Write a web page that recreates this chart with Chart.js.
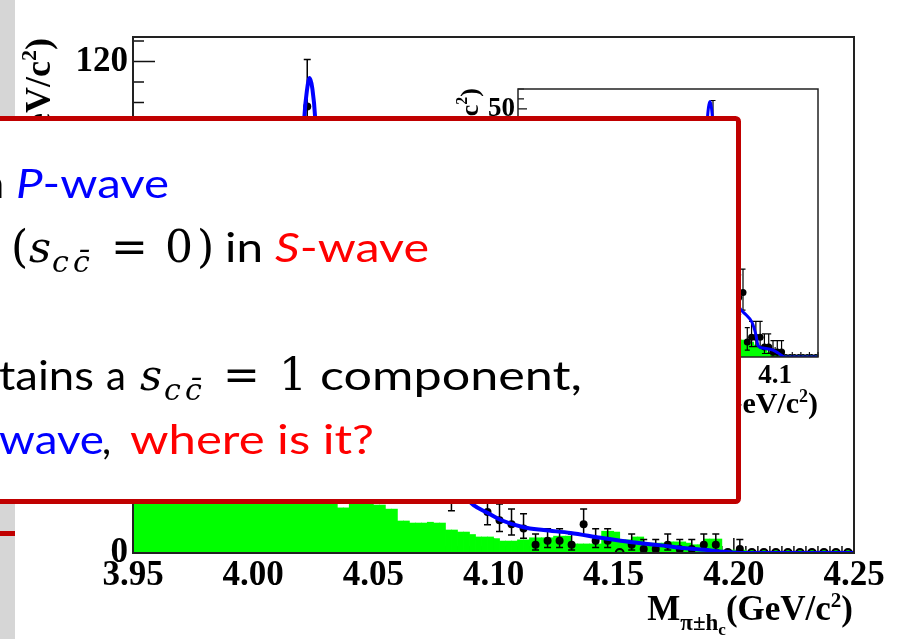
<!DOCTYPE html>
<html>
<head>
<meta charset="utf-8">
<script src="https://cdn.jsdelivr.net/npm/chart.js@4.4.1/dist/chart.umd.min.js"></script>
<style>
  html, body { margin: 0; padding: 0; background: #fff; }
  #stage { position: relative; width: 900px; height: 639px; overflow: hidden; background: #fff; }
  #strip { position: absolute; left: 0; top: 0; width: 15px; height: 639px; background: #d6d6d6; }
  #stripRule { position: absolute; left: 0; top: 531px; width: 15px; height: 5px; background: #c00000; }
  canvas { position: absolute; left: 0; top: 0; }
  #note { position: absolute; left: 0; top: 0; }
</style>
</head>
<body>
<div id="stage">
  <div id="strip"></div>
  <div id="stripRule"></div>
  <canvas id="main" width="900" height="639"></canvas>
  <canvas id="inset" width="900" height="639"></canvas>
  <svg id="note" width="900" height="639" xmlns="http://www.w3.org/2000/svg">
    <rect x="-20" y="118.5" width="758.5" height="383" rx="3" fill="#ffffff" stroke="#c00000" stroke-width="5"/>
    <g font-family="Lato, 'Open Sans', sans-serif" font-size="40">
      <!-- line 1 -->
      <text x="4" y="198" text-anchor="end" fill="#000">in</text>
      <text x="16" y="198" fill="#0000ff" textLength="153" lengthAdjust="spacingAndGlyphs"><tspan font-style="italic">P</tspan>-wave</text>
      <!-- line 2 -->
      <text x="11" y="262" font-family="'DejaVu Serif', serif" font-size="44" fill="#000">(</text>
      <text x="29" y="262" font-family="'DejaVu Serif', serif" font-size="43" font-style="italic" fill="#000">s</text>
      <text x="52" y="272" font-family="'DejaVu Serif', serif" font-size="30" font-style="italic" fill="#000">c</text>
      <text x="73" y="272" font-family="'DejaVu Serif', serif" font-size="30" font-style="italic" fill="#000">c&#x0304;</text>
      <text x="111" y="262" font-family="'DejaVu Serif', serif" font-size="44" fill="#000">=</text>
      <text x="165" y="262" font-family="'DejaVu Serif', serif" font-size="44" fill="#000">0</text>
      <text x="197" y="262" font-family="'DejaVu Serif', serif" font-size="44" fill="#000">)</text>
      <text x="225" y="262" fill="#000" textLength="38" lengthAdjust="spacingAndGlyphs">in</text>
      <text x="275" y="262" fill="#ff0000" textLength="154" lengthAdjust="spacingAndGlyphs"><tspan font-style="italic">S</tspan>-wave</text>
      <!-- line 3 -->
      <text x="-1" y="390" text-anchor="end" fill="#000">con</text>
      <text x="-1" y="390" fill="#000" textLength="95" lengthAdjust="spacingAndGlyphs">tains</text>
      <text x="106" y="390" fill="#000">a</text>
      <text x="140" y="390" font-family="'DejaVu Serif', serif" font-size="43" font-style="italic" fill="#000">s</text>
      <text x="164" y="400" font-family="'DejaVu Serif', serif" font-size="30" font-style="italic" fill="#000">c</text>
      <text x="185" y="400" font-family="'DejaVu Serif', serif" font-size="30" font-style="italic" fill="#000">c&#x0304;</text>
      <text x="223" y="390" font-family="'DejaVu Serif', serif" font-size="44" fill="#000">=</text>
      <text x="279" y="390" font-family="'DejaVu Serif', serif" font-size="44" fill="#000">1</text>
      <text x="320" y="390" fill="#000" textLength="262" lengthAdjust="spacingAndGlyphs">component,</text>
      <!-- line 4 -->
      <text x="-1" y="454" text-anchor="end" fill="#0000ff"><tspan font-style="italic">P</tspan>-</text>
      <text x="-1" y="454" fill="#0000ff" textLength="105" lengthAdjust="spacingAndGlyphs">wave</text>
      <text x="102" y="454" fill="#000">,</text>
      <text x="130" y="454" fill="#ff0000" textLength="244" lengthAdjust="spacingAndGlyphs">where is it?</text>
    </g>
  </svg>
</div>

<script>
// ---------- main spectrum: 5 MeV/c² bins, 3.95 – 4.25 GeV/c² ----------
const mainRange = [3.95, 4.25];
const mainBinWidth = 0.005;
const mainCounts = [
  24, 28, 31, 27, 35, 33, 38, 36, 41, 39,
  44, 42, 52, 71, 109, 88, 47, 36, 32, 29,
  31, 26, 24, 22, 19, 20, 14, 18, 17, 10,
  8, 7, 6, 2, 3, 3, 2, 7, 3, 3,
  0, 2, 1, 1, 2, 1, 1, 2, 2, 0,
  1, 0, 0, 0, 0, 0, 0, 0, 0, 0
];
const mainErrHigh = [
  5.97, 6.35, 6.62, 6.26, 6.96, 6.79, 7.21, 7.05, 7.45, 7.29,
  7.68, 7.52, 8.25, 9.47, 11.5, 10.4, 7.90, 7.05, 6.71, 6.44,
  6.62, 6.17, 5.97, 5.76, 5.44, 5.55, 4.83, 5.32, 5.20, 4.27,
  3.94, 3.77, 3.58, 2.64, 2.92, 2.92, 2.64, 3.77, 2.92, 2.92,
  0, 2.64, 2.30, 2.30, 2.64, 2.30, 2.30, 2.64, 2.64, 0,
  2.30, 0, 0, 0, 0, 0, 0, 0, 0, 0
];
const mainErrLow = [
  4.87, 5.28, 5.56, 5.18, 5.91, 5.74, 6.16, 6.00, 6.40, 6.24,
  6.63, 6.48, 7.20, 8.42, 10.4, 9.40, 6.85, 6.00, 5.65, 5.37,
  5.56, 5.08, 4.87, 4.66, 4.32, 4.44, 3.70, 4.20, 4.08, 3.11,
  2.77, 2.58, 2.38, 1.29, 1.63, 1.63, 1.29, 2.58, 1.63, 1.63,
  0, 1.29, 0.83, 0.83, 1.29, 0.83, 0.83, 1.29, 1.29, 0,
  0.83, 0, 0, 0, 0, 0, 0, 0, 0, 0
];
// background histogram, 2.5 MeV/c² bins
const mainBkgBinWidth = 0.0025;
const mainBkg = [
  19, 21, 20, 23, 22, 24, 23, 26, 25, 27,
  26, 28, 27, 29, 28, 27, 29, 28, 30, 27,
  28, 26, 27, 25, 26, 24, 23, 22, 21, 19,
  18, 17, 16, 14, 11, 11, 13.5, 14, 13.2, 13.6,
  11.7, 11.7, 10.7, 10.7, 7.8, 7.8, 7.3, 7.3, 7.3, 7.5,
  7.3, 7.3, 5.6, 5.6, 5.1, 5.1, 4.5, 3.9, 3.9, 3.9,
  3.5, 2.9, 2.9, 2.9, 3.2, 3.2, 3.7, 3.7, 3.7, 3.7,
  4.1, 4.1, 4.1, 2.2, 2.2, 2.2, 2.2, 2.2, 5.3, 5.3,
  5.1, 3.2, 3.2, 3.9, 3.9, 2.4, 2.4, 2.4, 2.4, 2.7,
  2.7, 2.7, 2.4, 2.0, 2.0, 3.4, 3.4, 3.4, 0.7, 0.7,
  0.7, 0.7, 0, 0, 0, 0, 0, 0, 0, 0,
  0, 0, 0, 0, 0, 0, 0, 0, 0, 0
];
// total fit curve
const mainFitMass = [
  3.95, 3.96, 3.97, 3.98, 3.99, 4.00, 4.01, 4.015, 4.0185, 4.0205,
  4.02125, 4.0225, 4.0235, 4.0246, 4.02583, 4.0268, 4.029, 4.032, 4.036, 4.041,
  4.05, 4.06, 4.07, 4.08, 4.0875, 4.0917, 4.0975, 4.1033, 4.1125, 4.1208,
  4.1321, 4.1446, 4.1529, 4.1613, 4.1708, 4.1792, 4.1875, 4.1958, 4.2042, 4.25
];
const mainFitValue = [
  30, 33, 36, 39, 41, 44, 48, 55, 68, 95,
  106, 113.5, 116, 113.5, 106, 92, 66, 50, 42, 37,
  31, 26, 21, 17, 14, 11.7, 9.8, 8.0, 6.3, 5.6,
  4.9, 3.7, 3.0, 2.4, 1.8, 1.2, 0.8, 0.3, 0, 0
];
const mainXTicks = [3.95, 4.00, 4.05, 4.10, 4.15, 4.20, 4.25];
const mainXTickLabels = ['3.95', '4.00', '4.05', '4.10', '4.15', '4.20', '4.25'];
const mainYTicks = [0, 20, 40, 60, 80, 100, 120];
const mainYTickLabels = ['0', '20', '40', '60', '80', '100', '120'];

// ---------- inset spectrum: 5 MeV/c² bins, 3.80 – 4.15 GeV/c² ----------
const insetRange = [3.80, 4.15];
const insetBinWidth = 0.005;
const insetCounts = [
  3, 5, 4, 6, 5, 7, 6, 5, 8, 7,
  8, 7, 9, 10, 8, 11, 10, 12, 11, 13,
  12, 14, 13, 15, 14, 16, 15, 17, 16, 18,
  17, 19, 18, 20, 19, 21, 20, 22, 21, 23,
  24, 26, 29, 35, 38, 44, 30, 24, 21, 17,
  15, 12, 13, 3, 4, 4, 4, 2, 2, 1,
  1, 1, 0, 0, 0, 0, 0, 0, 0, 0
];
const insetErrHigh = [
  2.92, 3.38, 3.16, 3.58, 3.38, 3.77, 3.58, 3.38, 3.94, 3.77,
  3.94, 3.77, 4.11, 4.27, 3.94, 4.42, 4.27, 4.56, 4.42, 4.69,
  4.56, 4.83, 4.69, 4.95, 4.83, 5.08, 4.95, 5.20, 5.08, 5.32,
  5.20, 5.44, 5.32, 5.55, 5.44, 5.66, 5.55, 5.76, 5.66, 5.87,
  5.97, 6.17, 6.44, 6.96, 7.21, 7.68, 6.53, 5.97, 5.66, 5.20,
  4.95, 4.56, 4.69, 2.92, 3.16, 3.16, 3.16, 2.64, 2.64, 2.30,
  2.30, 2.30, 0, 0, 0, 0, 0, 0, 0, 0
];
const insetErrLow = [
  1.63, 2.16, 1.91, 2.38, 2.16, 2.58, 2.38, 2.16, 2.77, 2.58,
  2.77, 2.58, 2.94, 3.11, 2.77, 3.27, 3.11, 3.42, 3.27, 3.56,
  3.42, 3.70, 3.56, 3.83, 3.70, 3.96, 3.83, 4.08, 3.96, 4.20,
  4.08, 4.32, 4.20, 4.44, 4.32, 4.55, 4.44, 4.66, 4.55, 4.77,
  4.87, 5.08, 5.37, 5.91, 6.16, 6.63, 5.47, 4.87, 4.55, 4.08,
  3.83, 3.42, 3.56, 1.63, 1.91, 1.91, 1.91, 1.29, 1.29, 0.83,
  0.83, 0.83, 0, 0, 0, 0, 0, 0, 0, 0
];
const insetBkg = [
  2.0, 2.4, 2.2, 2.8, 3.0, 3.3, 3.1, 3.6, 3.9, 4.2,
  4.0, 4.5, 4.8, 5.1, 5.0, 5.6, 5.9, 6.1, 6.0, 6.6,
  6.9, 7.2, 7.0, 7.6, 7.9, 8.1, 8.0, 8.5, 8.8, 9.0,
  8.7, 9.2, 9.4, 9.1, 9.6, 9.8, 9.5, 9.9, 10.1, 9.7,
  9.9, 9.6, 9.3, 9.4, 8.9, 8.6, 8.0, 7.4, 6.8, 6.0,
  5.0, 3.6, 3.4, 3.2, 3.0, 2.4, 2.0, 1.6, 1.0, 0.6,
  0.4, 0.2, 0, 0, 0, 0, 0, 0, 0, 0
];
const insetFitMass = [
  3.80, 3.85, 3.90, 3.95, 3.98, 4.00, 4.010, 4.015, 4.018, 4.0205,
  4.024, 4.0275, 4.031, 4.036, 4.042, 4.048, 4.054, 4.059, 4.066, 4.073,
  4.0775, 4.080, 4.086, 4.0975, 4.1035, 4.1115, 4.15
];
const insetFitValue = [
  6, 10, 14, 18, 21, 23, 25, 30, 38, 47,
  51.5, 47, 37, 27, 20, 15, 12, 9.8, 8.5, 7.0,
  4.5, 2.3, 1.8, 1.4, 0.8, 0, 0
];
const insetXTicks = [3.9, 4.0, 4.1];
const insetXTickLabels = ['3.9', '4', '4.1'];
const insetYTicks = [0, 10, 20, 30, 40, 50];
const insetYTickLabels = ['0', '10', '20', '30', '40', '50'];

// ---------- helpers ----------
const SERIF = '"Liberation Serif", "Times New Roman", serif';
const centers = (lo, w, n) => Array.from({ length: n }, (_, i) => lo + w * (i + 0.5));
const toPoints = (xs, ys) => ys.map((v, i) => ({ x: xs[i], y: v }));

function drawRuns(ctx, runs, anchorX, baseY, align) {
  let w = 0;
  runs.forEach(r => { ctx.font = r.font; w += ctx.measureText(r.text).width; });
  let x = align === 'end' ? anchorX - w : anchorX;
  runs.forEach(r => {
    ctx.font = r.font;
    ctx.fillText(r.text, x, baseY + (r.dy || 0));
    x += ctx.measureText(r.text).width;
  });
}

function errorBars(id, dsIndex, lo, hi, cap, width) {
  return {
    id,
    beforeDatasetDraw(chart, args) {
      if (args.index !== dsIndex) return;
      const ys = chart.scales.y, ctx = chart.ctx;
      const data = chart.data.datasets[dsIndex].data;
      ctx.save();
      ctx.strokeStyle = '#000';
      ctx.lineWidth = width;
      ctx.beginPath();
      args.meta.data.forEach((pt, i) => {
        if (!(hi[i] > 0 || lo[i] > 0)) return;
        const v = data[i].y;
        const yt = ys.getPixelForValue(v + hi[i]);
        const yb = ys.getPixelForValue(v - lo[i]);
        ctx.moveTo(pt.x, yt); ctx.lineTo(pt.x, yb);
        ctx.moveTo(pt.x - cap, yt); ctx.lineTo(pt.x + cap, yt);
        ctx.moveTo(pt.x - cap, yb); ctx.lineTo(pt.x + cap, yb);
      });
      ctx.stroke();
      ctx.restore();
    }
  };
}

function axisTicks(id, cfg) {
  return {
    id,
    beforeDatasetsDraw(chart) {
      const { ctx, chartArea: a, scales: { x, y } } = chart;
      ctx.save();
      ctx.strokeStyle = '#111';
      ctx.lineWidth = cfg.tickWidth;
      ctx.beginPath();
      for (let k = 0; k <= cfg.yMinorCount; k++) {
        const v = k * cfg.yMinor;
        const py = y.getPixelForValue(v);
        if (py < a.top - 0.5) continue;
        const len = (k % cfg.yMajorEvery === 0) ? cfg.yMajorLen : cfg.yMinorLen;
        ctx.moveTo(a.left, py); ctx.lineTo(a.left + len, py);
      }
      for (let k = 0; k <= cfg.xMinorCount; k++) {
        const v = cfg.xStart + k * cfg.xMinor;
        const px = x.getPixelForValue(v);
        if (px > a.right + 0.5) continue;
        const len = ((k + cfg.xMajorPhase) % cfg.xMajorEvery === 0) ? cfg.xMajorLen : cfg.xMinorLen;
        ctx.moveTo(px, a.bottom); ctx.lineTo(px, a.bottom - len);
      }
      ctx.stroke();
      ctx.restore();
    },
    afterDatasetsDraw(chart) {
      const { ctx, chartArea: a } = chart;
      ctx.save();
      ctx.strokeStyle = '#222';
      ctx.lineWidth = cfg.frameWidth;
      ctx.strokeRect(a.left, a.top, a.right - a.left, a.bottom - a.top);
      ctx.restore();
    }
  };
}

// ---------- main chart ----------
const mainCenters = centers(mainRange[0], mainBinWidth, mainCounts.length);
const mainBkgCenters = centers(mainRange[0], mainBkgBinWidth, mainBkg.length);

const mainTitles = {
  id: 'mainTitles',
  afterDraw(chart) {
    const ctx = chart.ctx;
    ctx.save();
    ctx.fillStyle = '#000';
    ctx.textBaseline = 'alphabetic';
    ctx.textAlign = 'left';
    drawRuns(ctx, [
      { text: 'M', font: `bold 35px ${SERIF}` },
      { text: 'π±h', font: `bold 23px ${SERIF}`, dy: 10 },
      { text: 'c', font: `bold 17px ${SERIF}`, dy: 15 },
      { text: '(GeV/c', font: `bold 35px ${SERIF}` },
      { text: '2', font: `bold 21px ${SERIF}`, dy: -13 },
      { text: ')', font: `bold 35px ${SERIF}` }
    ], 853, 620, 'end');
    ctx.translate(50, 38);
    ctx.rotate(-Math.PI / 2);
    drawRuns(ctx, [
      { text: 'Events / ( 5 MeV/c', font: `bold 36px ${SERIF}` },
      { text: '2', font: `bold 22px ${SERIF}`, dy: -14 },
      { text: ')', font: `bold 36px ${SERIF}` }
    ], 0, 0, 'end');
    ctx.restore();
  }
};

new Chart(document.getElementById('main'), {
  type: 'scatter',
  data: {
    datasets: [
      {
        type: 'line', label: 'fit', order: 1,
        data: toPoints(mainFitMass, mainFitValue),
        borderColor: '#0000ff', borderWidth: 4, pointRadius: 0, fill: false,
        cubicInterpolationMode: 'monotone'
      },
      {
        type: 'scatter', label: 'data', order: 2,
        data: toPoints(mainCenters, mainCounts),
        pointRadius: 4, pointHoverRadius: 4,
        backgroundColor: c => (c.raw && c.raw.y === 0) ? '#00d000' : '#000',
        borderColor: '#000',
        borderWidth: c => (c.raw && c.raw.y === 0) ? 2 : 0
      },
      {
        type: 'bar', label: 'background', order: 3,
        data: toPoints(mainBkgCenters, mainBkg),
        backgroundColor: '#00ff00', borderWidth: 0,
        barPercentage: 1, categoryPercentage: 1, inflateAmount: 0.4
      }
    ]
  },
  options: {
    responsive: false, animation: false, devicePixelRatio: 1,
    layout: { padding: { left: 0, right: 46, top: 37, bottom: 0 } },
    plugins: { legend: { display: false }, tooltip: { enabled: false } },
    scales: {
      x: {
        type: 'linear', min: mainRange[0], max: mainRange[1], offset: false,
        grid: { display: false, drawTicks: false }, border: { display: false },
        afterFit: s => { s.height = 86; },
        afterBuildTicks: s => { s.ticks = mainXTicks.map(v => ({ value: v })); },
        ticks: {
          autoSkip: false, maxRotation: 0, padding: 2, color: '#000',
          font: { family: SERIF, weight: 'bold', size: 35 },
          callback: (v, i) => mainXTickLabels[i]
        }
      },
      y: {
        type: 'linear', min: 0, max: 126,
        grid: { display: false, drawTicks: false }, border: { display: false },
        afterFit: s => { s.width = 133; },
        afterBuildTicks: s => { s.ticks = mainYTicks.map(v => ({ value: v })); },
        ticks: {
          autoSkip: false, padding: 5, color: '#000',
          font: { family: SERIF, weight: 'bold', size: 35 },
          callback: (v, i) => mainYTickLabels[i]
        }
      }
    }
  },
  plugins: [
    axisTicks('mainAxes', {
      tickWidth: 1.5, frameWidth: 2,
      yMinor: 5, yMinorCount: 25, yMajorEvery: 4, yMajorLen: 22, yMinorLen: 11,
      xStart: 3.95, xMinor: 0.005, xMinorCount: 60, xMajorEvery: 10, xMajorPhase: 0,
      xMajorLen: 15, xMinorLen: 7
    }),
    errorBars('mainErrors', 1, mainErrLow, mainErrHigh, 3.5, 1.5),
    mainTitles
  ]
});

// ---------- inset chart ----------
const insetCenters = centers(insetRange[0], insetBinWidth, insetCounts.length);

const insetDecor = {
  id: 'insetDecor',
  beforeDraw(chart) {
    const { ctx, chartArea: a } = chart;
    ctx.save();
    ctx.fillStyle = '#fff';
    ctx.fillRect(a.left, a.top, a.right - a.left, a.bottom - a.top);
    ctx.restore();
  },
  afterDraw(chart) {
    const ctx = chart.ctx;
    ctx.save();
    ctx.fillStyle = '#000';
    ctx.textBaseline = 'alphabetic';
    ctx.textAlign = 'left';
    drawRuns(ctx, [
      { text: 'M', font: `bold 30px ${SERIF}` },
      { text: 'π⁰h', font: `bold 19px ${SERIF}`, dy: 8 },
      { text: 'c', font: `bold 14px ${SERIF}`, dy: 12 },
      { text: '(GeV/c', font: `bold 30px ${SERIF}` },
      { text: '2', font: `bold 18px ${SERIF}`, dy: -11 },
      { text: ')', font: `bold 30px ${SERIF}` }
    ], 818, 413, 'end');
    ctx.translate(478, 88);
    ctx.rotate(-Math.PI / 2);
    drawRuns(ctx, [
      { text: 'Events / ( 5 MeV/c', font: `bold 26px ${SERIF}` },
      { text: '2', font: `bold 16px ${SERIF}`, dy: -11 },
      { text: ')', font: `bold 26px ${SERIF}` }
    ], 0, 0, 'end');
    ctx.restore();
  }
};

new Chart(document.getElementById('inset'), {
  type: 'scatter',
  data: {
    datasets: [
      {
        type: 'line', label: 'fit', order: 1,
        data: toPoints(insetFitMass, insetFitValue),
        borderColor: '#0000ff', borderWidth: 3, pointRadius: 0, fill: false,
        cubicInterpolationMode: 'monotone'
      },
      {
        type: 'scatter', label: 'data', order: 2,
        data: toPoints(insetCenters, insetCounts),
        pointRadius: c => (c.raw && c.raw.y === 0) ? 2.3 : 3.5,
        pointHoverRadius: 3.5,
        backgroundColor: c => (c.raw && c.raw.y === 0) ? '#00d000' : '#000',
        borderColor: '#000',
        borderWidth: c => (c.raw && c.raw.y === 0) ? 1.3 : 0
      },
      {
        type: 'bar', label: 'background', order: 3,
        data: toPoints(insetCenters, insetBkg),
        backgroundColor: '#00ff00', borderWidth: 0,
        barPercentage: 1, categoryPercentage: 1, inflateAmount: 0.4
      }
    ]
  },
  options: {
    responsive: false, animation: false, devicePixelRatio: 1,
    layout: { padding: { left: 0, right: 82, top: 89, bottom: 0 } },
    plugins: { legend: { display: false }, tooltip: { enabled: false } },
    scales: {
      x: {
        type: 'linear', min: insetRange[0], max: insetRange[1], offset: false,
        grid: { display: false, drawTicks: false }, border: { display: false },
        afterFit: s => { s.height = 282; },
        afterBuildTicks: s => { s.ticks = insetXTicks.map(v => ({ value: v })); },
        ticks: {
          autoSkip: false, maxRotation: 0, padding: 3, color: '#000',
          font: { family: SERIF, weight: 'bold', size: 27 },
          callback: (v, i) => insetXTickLabels[i]
        }
      },
      y: {
        type: 'linear', min: 0, max: 54,
        grid: { display: false, drawTicks: false }, border: { display: false },
        afterFit: s => { s.width = 518; },
        afterBuildTicks: s => { s.ticks = insetYTicks.map(v => ({ value: v })); },
        ticks: {
          autoSkip: false, padding: 3, color: '#000',
          font: { family: SERIF, weight: 'bold', size: 27 },
          callback: (v, i) => insetYTickLabels[i]
        }
      }
    }
  },
  plugins: [
    insetDecor,
    axisTicks('insetAxes', {
      tickWidth: 1.2, frameWidth: 1.5,
      yMinor: 2, yMinorCount: 27, yMajorEvery: 5, yMajorLen: 9, yMinorLen: 6,
      xStart: 3.80, xMinor: 0.01, xMinorCount: 35, xMajorEvery: 10, xMajorPhase: 0,
      xMajorLen: 10, xMinorLen: 5
    }),
    errorBars('insetErrors', 1, insetErrLow, insetErrHigh, 2.5, 1.2)
  ]
});
</script>
</body>
</html>
